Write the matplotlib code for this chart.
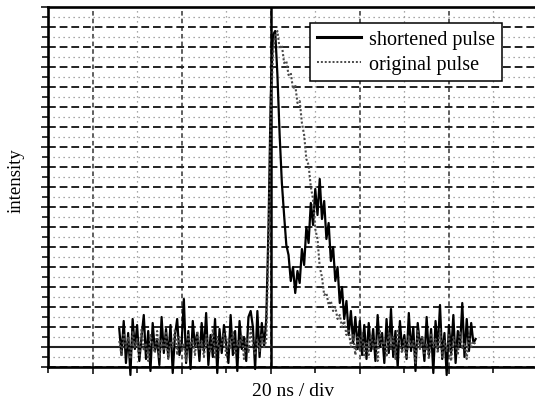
import matplotlib
matplotlib.use("Agg")
import matplotlib.pyplot as plt
from matplotlib.lines import Line2D
from matplotlib.ticker import MultipleLocator
import numpy as np

plt.rcParams['font.family'] = ['Liberation Serif', 'DejaVu Serif']

# scope traces, sampled every 0.5 ns starting at t0 (ns); amplitude in screen divisions
t0 = 6.0
dt = 0.5

shortened = [
    # pre-trigger noise
    1.9, 0.6, 2.3, 0.2, 1.7, -0.4, 2.4, 0.9, 2.1, 0.3,
    1.5, 2.6, 0.4, 1.8, -0.2, 2.2, 0.8, 1.4, 0.1, 2.5,
    0.7, 1.9, 0.5, 2.1, -0.3, 1.6, 2.4, 0.6, 1.2, 3.4,
    0.2, 1.8, -0.1, 2.3, 1.0, 1.7, 0.3, 2.2, 0.8, 2.7,
    0.1, 1.6, 0.5, 2.4, -0.3, 1.9, 0.7, 2.1, 1.1, 0.2,
    2.6, 0.6, 1.8, -0.2, 2.3, 0.9, 1.5, 0.3, 2.5, 2.8,
    2.0, -0.1, 2.8, 0.5, 2.2, 1.0, 2.4,
    # pulse
    7.0, 13.5, 16.6, 16.8, 14.6, 11.6, 9.2, 7.6, 6.1, 5.6,
    4.3, 5.0, 3.7, 4.8, 4.2, 5.9, 5.1, 7.0, 6.2, 8.2,
    7.1, 8.9, 7.6, 9.4, 7.4, 8.3, 6.4, 7.2, 5.3, 6.0,
    4.3, 5.0, 3.2, 4.0, 2.4, 3.3, 1.6, 2.8, 1.2, 2.5,
    0.9, 2.3, 0.6, 2.1,
    # tail noise
    0.4, 2.2, 0.8, 1.9, 0.3, 2.6, 1.0, 1.7, 0.2, 2.4,
    0.7, 2.9, 0.5, 1.8, 0.0, 2.3, 0.9, 1.6, 0.4, 2.7,
    0.8, 2.0, -0.2, 2.2, 1.1, 1.5, 0.3, 2.5, 0.6, 1.9,
    -0.3, 2.3, 0.9, 3.1, 0.4, 1.7, -0.4, 2.1, 0.7, 2.6,
    0.2, 1.8, 1.0, 3.2, 0.5, 2.4, 0.8, 2.2, 1.2, 1.4,
]

original = [
    # pre-trigger noise
    1.3, 0.6, 1.7, 0.9, 1.5, 0.4, 1.8, 1.0, 1.4, 0.5,
    1.9, 0.8, 1.2, 0.3, 1.6, 1.1, 0.7, 1.8, 0.5, 1.4,
    0.9, 1.7, 0.4, 1.3, 1.0, 1.9, 0.6, 1.5, 0.8, 1.2,
    0.3, 1.7, 1.0, 1.4, 0.6, 1.8, 0.9, 1.3, 0.5, 1.6,
    1.1, 0.7, 1.9, 0.4, 1.5, 0.8, 1.2, 1.7, 0.5, 1.4,
    0.9, 1.8, 0.6, 1.3, 1.0, 1.6, 0.4, 1.5, 0.7, 1.9,
    1.1, 0.6, 1.4, 0.8, 1.7, 1.0, 1.3,
    # pulse
    6.0, 12.5, 15.6, 16.6, 16.8, 15.9, 16.1, 15.2, 15.3, 14.6,
    14.7, 13.9, 14.1, 13.2, 13.3, 12.2, 11.6, 10.4, 10.1, 9.0,
    8.4, 6.9, 6.4, 5.0, 4.5, 3.6, 3.7, 3.1, 3.3, 2.8,
    3.0, 2.4, 2.6, 2.0, 2.3, 1.6, 1.9, 1.0, 1.6, 0.6,
    1.5, 0.8, 1.7, 0.5,
    # tail noise
    1.2, 0.6, 1.6, 0.9, 1.4, 0.3, 1.8, 1.0, 1.3, 0.5,
    1.7, 0.8, 1.5, 0.4, 1.9, 1.1, 0.7, 1.4, 0.5, 1.6,
    1.0, 1.3, 0.2, 1.8, 0.9, 1.5, 0.6, 1.2, 0.4, 1.7,
    1.0, 1.4, 0.7, 1.9, 0.5, 1.3, 0.8, 1.6, 0.3, 1.5,
    1.1, 0.6, 1.8, 0.9, 1.2, 0.4, 1.6, 1.0, 1.3, 1.1,
]

labels = ["shortened pulse", "original pulse"]

t_short = t0 + dt * np.arange(len(shortened))
t_orig = t0 + dt * np.arange(len(original))

fig = plt.figure(figsize=(5.35, 4.06), dpi=100)
ax = fig.add_axes([48 / 535, 38 / 406, 490 / 535, 360 / 406])

ax.set_xlim(-10, 100)
ax.set_ylim(0, 18)
ax.xaxis.set_major_locator(MultipleLocator(20))
ax.xaxis.set_minor_locator(MultipleLocator(10))
ax.yaxis.set_major_locator(MultipleLocator(1))
ax.yaxis.set_minor_locator(MultipleLocator(0.5))

# scope graticule: heavy dashed rows, lighter dashed columns, dotted subdivisions
ax.set_axisbelow(True)
ax.grid(which='major', axis='y', color='#222222', linestyle=(0, (4, 2)), linewidth=1.4)
ax.grid(which='major', axis='x', color='#333333', linestyle=(0, (3, 2)), linewidth=1.1)
ax.grid(which='minor', color='#8c8c8c', linestyle=(0, (1, 3)), linewidth=0.9)
ax.axvline(40, color='black', linewidth=1.8, zorder=1)
ax.axhline(1, color='#222222', linewidth=1.5, zorder=1)

ax.plot(t_short, shortened, color='black', linewidth=1.6, clip_on=False, zorder=3)
ax.plot(t_orig, original, color='#4a4a4a', linestyle=(0, (1, 1)), linewidth=1.5,
        clip_on=False, zorder=4)

for side in ax.spines.values():
    side.set_linewidth(1.9)

ax.tick_params(which='both', direction='out', labelbottom=False, labelleft=False,
               top=False, right=False, width=1.1)
ax.tick_params(which='major', length=5)
ax.tick_params(which='minor', length=4)

ax.set_xlabel("20 ns / div", fontsize=14)
ax.xaxis.set_label_coords(0.5, -0.043)
ax.xaxis.label.set_va('top')
ax.set_ylabel("intensity", fontsize=13.5)
ax.yaxis.set_label_coords(-0.047, 0.52)

handles = [
    Line2D([], [], color='black', linewidth=2.2),
    Line2D([], [], color='#4a4a4a', linestyle=(0, (1, 1)), linewidth=1.4),
]
leg = ax.legend(handles, labels, loc='upper right', bbox_to_anchor=(0.9265, 0.9556),
                borderaxespad=0, fontsize=14.5, fancybox=False, framealpha=1,
                edgecolor='black', handlelength=2.2, handletextpad=0.4,
                labelspacing=0.3, borderpad=0.35)
leg.get_frame().set_linewidth(1.1)
leg.set_zorder(5)

fig.savefig("out.png", dpi=100)
